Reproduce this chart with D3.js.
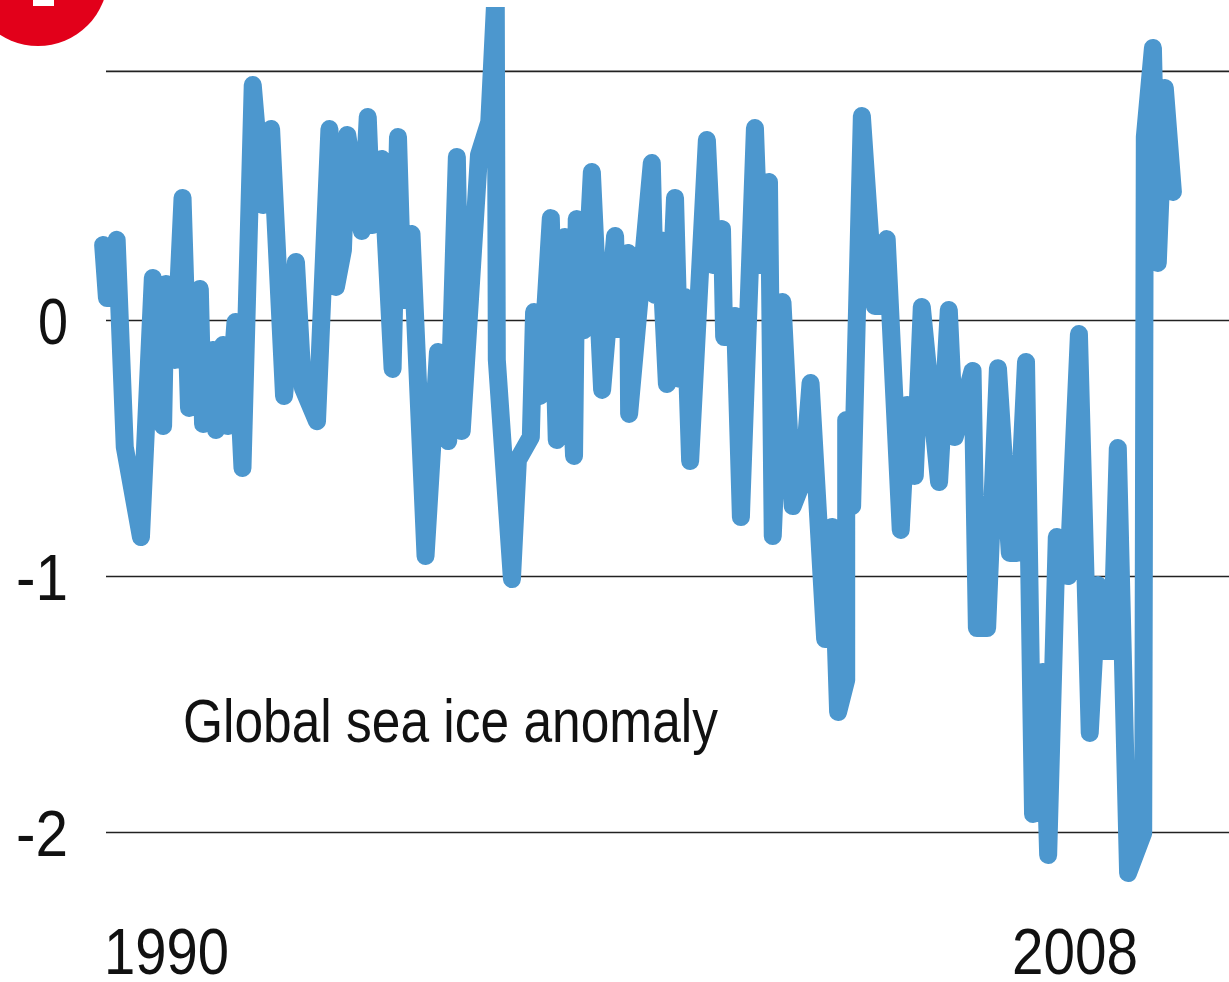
<!DOCTYPE html>
<html><head><meta charset="utf-8">
<script src="https://cdn.jsdelivr.net/npm/d3@7"></script>
<style>html,body{margin:0;padding:0;background:#fff;overflow:hidden}text{font-family:"Liberation Sans",sans-serif;fill:#111}</style>
</head><body><svg id="c" width="1229" height="982"></svg>
<script>
const years = [1990.04,1990.11,1990.29,1990.44,1990.74,1990.96,1991.15,1991.20,1991.37,1991.51,1991.63,1991.83,1991.89,1992.07,1992.13,1992.26,1992.35,1992.49,1992.62,1992.81,1993.00,1993.15,1993.39,1993.61,1993.74,1994.00,1994.23,1994.35,1994.48,1994.56,1994.83,1994.94,1995.02,1995.20,1995.40,1995.50,1995.59,1995.75,1996.01,1996.24,1996.43,1996.59,1996.68,1997.00,1997.19,1997.31,1997.33,1997.61,1997.72,1997.96,1998.02,1998.13,1998.33,1998.44,1998.59,1998.76,1998.81,1998.94,1999.09,1999.28,1999.52,1999.57,1999.76,1999.78,2000.20,2000.26,2000.35,2000.48,2000.63,2000.72,2000.81,2000.91,2001.22,2001.33,2001.50,2001.54,2001.74,2001.85,2002.11,2002.20,2002.37,2002.44,2002.62,2002.81,2003.00,2003.14,2003.41,2003.54,2003.65,2003.80,2003.80,2003.91,2004.09,2004.33,2004.43,2004.55,2004.81,2004.93,2005.07,2005.20,2005.52,2005.70,2005.81,2006.14,2006.22,2006.41,2006.61,2006.83,2006.96,2007.13,2007.26,2007.44,2007.54,2007.70,2007.91,2008.11,2008.31,2008.46,2008.56,2008.72,2008.83,2009.02,2009.30,2009.33,2009.48,2009.57,2009.70,2009.85];
const anomaly = [0.293,0.086,0.313,-0.496,-0.848,0.164,-0.414,0.141,-0.156,0.477,-0.344,0.121,-0.406,-0.117,-0.430,-0.098,-0.414,-0.008,-0.578,0.918,0.449,0.746,-0.297,0.227,-0.266,-0.395,0.746,0.129,0.273,0.723,0.348,0.793,0.371,0.629,-0.191,0.715,0.078,0.336,-0.922,-0.125,-0.473,0.637,-0.434,0.645,0.773,1.289,-0.156,-1.012,-0.547,-0.457,0.031,-0.297,0.398,-0.469,0.324,-0.531,0.395,-0.04,0.578,-0.273,0.328,-0.035,0.262,-0.367,0.613,0.098,0.313,-0.25,0.477,-0.23,0.09,-0.551,0.703,0.215,0.355,-0.066,0.016,-0.77,0.75,0.215,0.539,-0.844,0.07,-0.727,-0.625,-0.246,-1.246,-0.809,-1.531,-1.406,-0.391,-0.727,0.797,0.055,0.055,0.316,-0.82,-0.332,-0.609,0.051,-0.633,0.039,-0.457,-0.199,-1.203,-1.203,-0.188,-0.91,-0.91,-0.164,-1.93,-1.375,-2.09,-0.848,-1.0,-0.055,-1.613,-1.035,-1.293,-1.293,-0.5,-2.16,-2.004,0.715,1.0625,0.223,0.906,0.5];
const gridValues = [0.973,0,-1,-2];
const tickLabels = ["","0","-1","-2"];
const xLabels = [1990,2008];
const note = "Global sea ice anomaly";

const W = 1229, H = 982, gridLeft = 106;
const x = d3.scaleLinear().domain([1990,2008]).range([101,1073]);
const y = d3.scaleLinear().domain([0,-2]).range([320,832]);
const svg = d3.select("#c");

svg.append("defs").append("clipPath").attr("id","top").append("rect")
  .attr("x",0).attr("y",7).attr("width",W).attr("height",H-7);

svg.append("circle").attr("cx",38).attr("cy",-24).attr("r",70).attr("fill","#e2001a");
svg.append("rect").attr("x",33).attr("y",0).attr("width",21).attr("height",6).attr("fill","#fff");

const axis = d3.axisLeft(y).tickValues(gridValues).tickSize(-(W-gridLeft))
  .tickFormat((d,i)=>tickLabels[i]);
const g = svg.append("g").attr("transform",`translate(${gridLeft},0)`).call(axis);
g.select(".domain").remove();
g.selectAll(".tick line").attr("stroke","#222").attr("stroke-width",1.6);
g.selectAll(".tick text").attr("x",-38).attr("dy","0.36em")
  .attr("font-size",64).attr("text-anchor","end")
  .style("font-family",'"Liberation Sans"').attr("fill","#111")
  .attr("lengthAdjust","spacingAndGlyphs")
  .each(function(d,i){ if(tickLabels[i]) d3.select(this).attr("textLength", tickLabels[i].length>1 ? 52 : 30); });

const line = d3.line().x((d,i)=>x(years[i])).y(d=>y(d));
svg.append("path").datum(anomaly).attr("d",line).attr("fill","none")
  .attr("clip-path","url(#top)")
  .attr("stroke","#4c97ce").attr("stroke-width",18)
  .attr("stroke-linejoin","round").attr("stroke-linecap","round");

svg.append("text").attr("x",183).attr("y",742).attr("font-size",62)
  .attr("textLength",535).attr("lengthAdjust","spacingAndGlyphs").text(note);
svg.append("text").attr("x",104).attr("y",974).attr("font-size",64)
  .attr("textLength",125).attr("lengthAdjust","spacingAndGlyphs").text(xLabels[0]);
svg.append("text").attr("x",x(xLabels[1])+2).attr("y",974).attr("font-size",64).attr("text-anchor","middle")
  .attr("textLength",126).attr("lengthAdjust","spacingAndGlyphs").text(xLabels[1]);
</script></body></html>
